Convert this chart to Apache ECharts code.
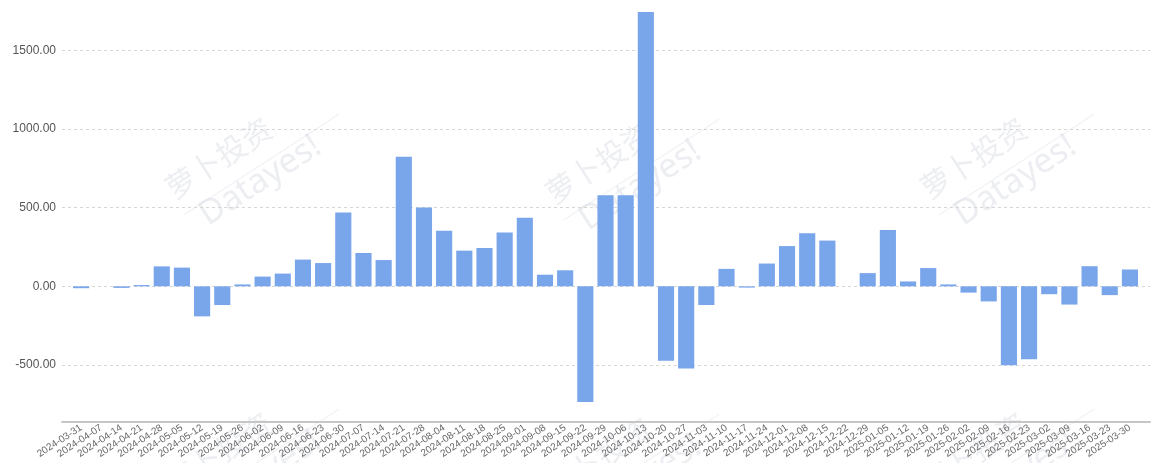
<!DOCTYPE html>
<html>
<head>
<meta charset="utf-8">
<script src="https://cdn.jsdelivr.net/npm/echarts@6/dist/echarts.min.js"></script>
<style>
  html, body { margin: 0; padding: 0; background: #fff; }
  #chart { width: 1171px; height: 463px; }
</style>
</head>
<body>
<div id="chart"></div>
<script>
var categories = [
  '2024-03-31','2024-04-07','2024-04-14','2024-04-21','2024-04-28','2024-05-05','2024-05-12','2024-05-19','2024-05-26',
  '2024-06-02','2024-06-09','2024-06-16','2024-06-23','2024-06-30','2024-07-07','2024-07-14','2024-07-21','2024-07-28',
  '2024-08-04','2024-08-11','2024-08-18','2024-08-25','2024-09-01','2024-09-08','2024-09-15','2024-09-22','2024-09-29',
  '2024-10-06','2024-10-13','2024-10-20','2024-10-27','2024-11-03','2024-11-10','2024-11-17','2024-11-24','2024-12-01',
  '2024-12-08','2024-12-15','2024-12-22','2024-12-29','2025-01-05','2025-01-12','2025-01-19','2025-01-26','2025-02-02',
  '2025-02-09','2025-02-16','2025-02-23','2025-03-02','2025-03-09','2025-03-16','2025-03-23','2025-03-30'
];
var values = [
  -12, 0, -10, 8, 127, 119, -191, -119, 12,
  62, 81, 170, 148, 469, 212, 167, 825, 502,
  354, 227, 244, 342, 437, 74, 102, -736, 579,
  579, 1745, -473, -522, -119, 111, -8, 145, 256,
  338, 291, 0, 84, 359, 31, 116, 12, -40,
  -96, -502, -464, -50, -116, 128, -56, 107
];
var yTicks = [-500, 0, 500, 1000, 1500];
var yMin = -863;
var yMax = 1745;
var watermarkCn = '萝卜投资';
var watermarkEn = 'Datayes!';

var chart = echarts.init(document.getElementById('chart'), null, { renderer: 'canvas' });

function watermark(x, y) {
  var c = 'rgba(205,210,222,0.38)';
  return {
    type: 'group',
    x: x, y: y,
    rotation: 33 * Math.PI / 180,
    silent: true,
    z: -10,
    children: [
      { type: 'text', x: 0, y: 0, style: { text: watermarkCn, font: '30px "Noto Sans CJK SC"', fill: c, letterSpacing: 18 } },
      { type: 'line', shape: { x1: 0, y1: 44, x2: 185, y2: 44 }, style: { stroke: c, lineWidth: 1 } },
      { type: 'text', x: 14, y: 40, style: { text: watermarkEn, font: '34px "Noto Sans"', fill: c } }
    ]
  };
}

var option = {
  backgroundColor: '#ffffff',
  animation: false,
  graphic: [
    watermark(160, 178), watermark(540, 183), watermark(915, 178),
    watermark(160, 473), watermark(540, 478), watermark(915, 473)
  ],
  grid: [
    { left: 62, right: 21, top: 12, height: 410, containLabel: false },
    { left: 71, right: 31, top: 12, height: 410, containLabel: false }
  ],
  xAxis: [
    {
      type: 'category', gridIndex: 0, data: categories,
      axisLine: { show: true, onZero: false, lineStyle: { color: '#c6c6c6', width: 2 } },
      axisTick: { show: false }, axisLabel: { show: false }, splitLine: { show: false }
    },
    {
      type: 'category', gridIndex: 1, data: categories,
      axisLine: { show: false, onZero: false }, axisTick: { show: false },
      axisLabel: { interval: 0, rotate: 33, fontSize: 10, color: '#666', margin: 5, fontFamily: 'Liberation Sans' },
      splitLine: { show: false }
    }
  ],
  yAxis: [
    {
      type: 'value', gridIndex: 0, min: yMin, max: yMax,
      axisLine: { show: false },
      axisTick: { show: false, customValues: yTicks },
      axisLabel: {
        customValues: yTicks, color: '#555', fontSize: 12, margin: 6, fontFamily: 'Liberation Sans',
        formatter: function (v) { return v.toFixed(2); }
      },
      splitLine: { show: true, lineStyle: { color: '#d6d6d6', type: [3, 3], width: 1 } }
    },
    {
      type: 'value', gridIndex: 1, min: yMin, max: yMax, show: false,
      splitLine: { show: false }
    }
  ],
  series: [
    {
      type: 'bar', xAxisIndex: 1, yAxisIndex: 1,
      data: values, barCategoryGap: '20%',
      itemStyle: { color: '#79a5eb' }
    }
  ]
};
chart.setOption(option);
</script>
</body>
</html>
